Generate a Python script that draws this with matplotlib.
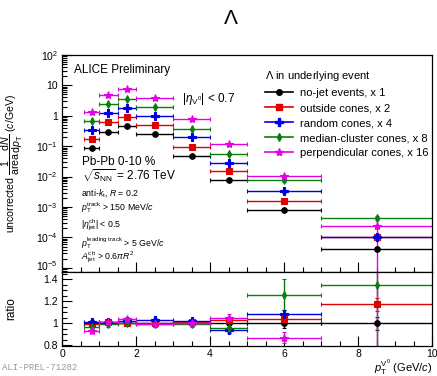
import matplotlib
matplotlib.use('Agg')
import matplotlib.pyplot as plt
from matplotlib.lines import Line2D
from matplotlib.transforms import ScaledTranslation
from matplotlib.ticker import FixedLocator, MultipleLocator, LogLocator, NullFormatter

plt.rcParams['font.family'] = ['Liberation Sans', 'DejaVu Sans']
plt.rcParams['mathtext.fontset'] = 'custom'
plt.rcParams['mathtext.rm'] = 'Liberation Sans'
plt.rcParams['mathtext.it'] = 'Liberation Sans:italic'
plt.rcParams['mathtext.bf'] = 'Liberation Sans:bold'

# pT bins (GeV/c)
bin_lo = [0.6, 1.0, 1.5, 2.0, 3.0, 4.0, 5.0, 7.0]
bin_hi = [1.0, 1.5, 2.0, 3.0, 4.0, 5.0, 7.0, 10.0]
bin_c = [0.8, 1.25, 1.75, 2.5, 3.5, 4.5, 6.0, 8.5]

names = ['no-jet events, x 1', 'outside cones, x 2', 'random cones, x 4',
         'median-cluster cones, x 8', 'perpendicular cones, x 16']
colors = ['black', '#e00000', '#0000e6', '#0a7d0a', '#e600e6']
markers = ['o', 's', 'P', 'd', '*']
msizes = [4, 4.5, 5.5, 4, 6]

# scaled spectra
spec_nojet = [0.09, 0.30, 0.47, 0.25, 0.048, 0.0076, 0.0008, 4.3e-5]
spec_out = [0.17, 0.62, 0.90, 0.48, 0.097, 0.0154, 0.0016, 1.0e-4]
spec_rand = [0.35, 1.2, 1.8, 0.97, 0.20, 0.028, 0.0033, 1.05e-4]
spec_med = [0.66, 2.4, 3.5, 1.96, 0.36, 0.057, 0.0076, 4.5e-4]
spec_perp = [1.31, 4.9, 7.5, 3.8, 0.77, 0.122, 0.0105, 2.45e-4]
spec_relerr = [0.04, 0.04, 0.04, 0.04, 0.05, 0.07, 0.10, 0.15]
perp_err_last = 2.4e-4

# ratio to no-jet events
rat_nojet = [1.0, 1.0, 1.0, 1.0, 1.0, 1.0, 1.0, 1.0]
rat_out = [0.99, 1.01, 1.0, 1.0, 1.01, 1.03, 1.04, 1.17]
rat_rand = [1.01, 1.01, 1.02, 1.03, 1.02, 0.94, 1.08, 0.58]
rat_med = [0.97, 0.99, 1.0, 0.99, 0.99, 0.955, 1.26, 1.35]
rat_perp = [0.93, 1.01, 1.04, 0.99, 1.0, 1.05, 0.87, 0.36]
rat_err = [0.02, 0.02, 0.02, 0.02, 0.02, 0.03, 0.04, 0.06]
rat_med_err = [0.02, 0.02, 0.02, 0.02, 0.02, 0.03, 0.14, 0.8]
rat_perp_err = [0.02, 0.02, 0.02, 0.02, 0.02, 0.03, 0.05, 1.2]

spectra = [spec_nojet, spec_out, spec_rand, spec_med, spec_perp]
ratios = [rat_nojet, rat_out, rat_rand, rat_med, rat_perp]
rat_errs = [rat_err, rat_err, rat_err, rat_med_err, rat_perp_err]

xerr = [[c - l for c, l in zip(bin_c, bin_lo)], [h - c for c, h in zip(bin_c, bin_hi)]]

fig = plt.figure(figsize=(4.37, 3.76), dpi=100)
ax1 = fig.add_axes([0.142, 0.277, 0.847, 0.577])
ax2 = fig.add_axes([0.142, 0.080, 0.847, 0.197], sharex=ax1)

handles = []
for i in range(5):
    yerr = [v * e for v, e in zip(spectra[i], spec_relerr)]
    if i == 4:
        yerr[-1] = perp_err_last
    ax1.errorbar(bin_c, spectra[i], xerr=xerr, yerr=yerr, fmt=markers[i],
                 color=colors[i], ms=msizes[i], lw=1, capsize=1.5, capthick=0.8,
                 mew=0.8)
    ax2.errorbar(bin_c, ratios[i], xerr=xerr, yerr=rat_errs[i], fmt=markers[i],
                 color=colors[i], ms=msizes[i], lw=1, capsize=1.5, capthick=0.8,
                 mew=0.8)
    handles.append(Line2D([], [], color=colors[i], marker=markers[i], ms=msizes[i], lw=1.2))

ax1.set_yscale('log')
ax1.set_ylim(7.4e-6, 100)
ax1.set_xlim(0, 10)
ax1.yaxis.set_major_locator(FixedLocator([1e-5, 1e-4, 1e-3, 1e-2, 1e-1, 1, 10, 100]))
ax1.set_yticklabels([r'$10^{-5}$', r'$10^{-4}$', r'$10^{-3}$', r'$10^{-2}$',
                     r'$10^{-1}$', '1', '10', r'$10^{2}$'])
ax1.yaxis.set_minor_locator(LogLocator(base=10, subs=range(2, 10), numticks=20))
ax1.yaxis.set_minor_formatter(NullFormatter())
ax1.xaxis.set_major_locator(MultipleLocator(2))
ax1.xaxis.set_minor_locator(MultipleLocator(0.5))
plt.setp(ax1.get_xticklabels(), visible=False)

ax2.set_ylim(0.795, 1.465)
ax2.yaxis.set_major_locator(FixedLocator([0.8, 1.0, 1.2, 1.4]))
ax2.set_yticklabels(['0.8', '1', '1.2', '1.4'])
ax2.yaxis.set_minor_locator(MultipleLocator(0.05))

for ax in (ax1, ax2):
    ax.tick_params(direction='in', which='both', top=False, right=False, labelsize=7.5, pad=3)
    ax.tick_params(which='major', length=7, width=0.8)
    ax.tick_params(which='minor', length=3.5, width=0.8)
    for s in ax.spines.values():
        s.set_linewidth(0.9)
ax2.tick_params(axis='x', pad=2)

# nudge the lowest log label up a little so it clears the ratio labels
fig.canvas.draw()
lab5 = ax1.get_yticklabels()[0]
lab5.set_transform(lab5.get_transform() + ScaledTranslation(0, 2 / 72, fig.dpi_scale_trans))

ax1.set_ylabel(r'uncorrected $\dfrac{1}{\mathrm{area}}\dfrac{\mathrm{d}N}{\mathrm{d}p_{\mathrm{T}}}$ ($c$/GeV)',
               fontsize=7.6)
ax2.set_ylabel('ratio', fontsize=8.5)
ax1.yaxis.set_label_coords(-0.1, 0.5)
ax2.yaxis.set_label_coords(-0.12, 0.5)
fig.text(0.989, 0.021, r'$p_{\mathrm{T}}^{\mathrm{V}^{0}}$ (GeV/$c$)', fontsize=8,
         ha='right', va='center')

ax1.text(0.032, 0.931, 'ALICE Preliminary', transform=ax1.transAxes, fontsize=8.5, va='center')
ax1.text(0.325, 0.797, r'$|\eta_{\mathrm{V}^{0}}|$ < 0.7', transform=ax1.transAxes, fontsize=8.5, va='center')
ax1.text(0.054, 0.507, 'Pb-Pb 0-10 %', transform=ax1.transAxes, fontsize=8.5, va='center')
ax1.text(0.054, 0.445, r'$\sqrt{s_{\mathrm{NN}}}$ = 2.76 TeV', transform=ax1.transAxes, fontsize=8.5, va='center')
small = [r'anti-$k_{\mathrm{t}}$, $R$ = 0.2',
         r'$p_{\mathrm{T}}^{\mathrm{track}}$ > 150 MeV/$c$',
         r'$|\eta_{\mathrm{jet}}^{\mathrm{ch}}|$ < 0.5',
         r'$p_{\mathrm{T}}^{\mathrm{leading\ track}}$ > 5 GeV/$c$',
         r'$A_{\mathrm{jet}}^{\mathrm{ch}}$ > 0.6$\pi R^{2}$']
small_y = [0.364, 0.295, 0.217, 0.134, 0.065]
for t, y in zip(small, small_y):
    ax1.text(0.051, y, t, transform=ax1.transAxes, fontsize=6.3, va='center')

leg = ax1.legend(handles, names, title=r'$\Lambda$ in underlying event', loc='upper left',
                 bbox_to_anchor=(0.535, 0.955), frameon=False, fontsize=8,
                 title_fontsize=8, alignment='left', handlelength=2.6,
                 handletextpad=0.6, labelspacing=0.45, borderaxespad=0)

fig.text(0.528, 0.95, r'$\Lambda$', fontsize=15, ha='center', va='center')
fig.text(0.005, 0.022, 'ALI-PREL-71282', fontsize=6.5, color='#999999',
         family='Liberation Mono', va='center')

fig.savefig('out.png', dpi=100)
